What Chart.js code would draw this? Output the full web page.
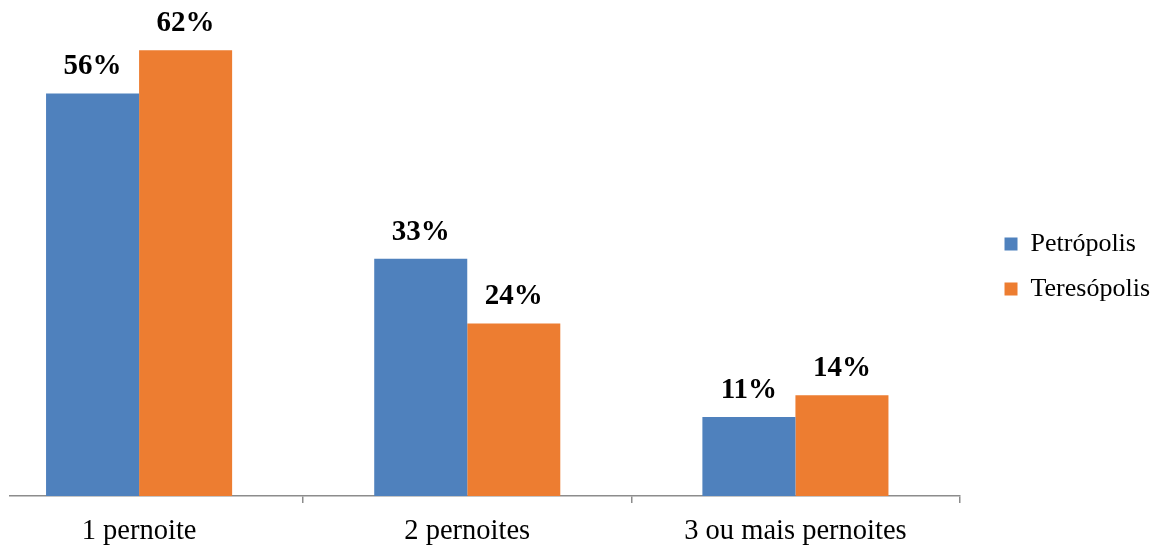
<!DOCTYPE html>
<html>
<head>
<meta charset="utf-8">
<script src="https://cdn.jsdelivr.net/npm/chart.js@4/dist/chart.umd.min.js"></script>
<style>
html,body{margin:0;padding:0;background:#fff;overflow:hidden;}
#clip{position:absolute;left:9px;top:0;width:1144px;height:549px;overflow:hidden;}
#wrap{position:absolute;left:-34px;top:0;width:1185px;height:549px;}
</style>
</head>
<body>
<div id="clip"><div id="wrap"><canvas id="c"></canvas></div></div>
<script>
const categories = ['1 pernoite', '2 pernoites', '3 ou mais pernoites'];
const seriesNames = ['Petrópolis', 'Teresópolis'];
const petropolis = [56, 33, 11];
const teresopolis = [62, 24, 14];
const colors = ['#4F81BD', '#ED7D31'];

const valueLabels = {
  id: 'valueLabels',
  afterDatasetsDraw(chart) {
    const ctx = chart.ctx;
    ctx.save();
    ctx.font = 'bold 29px "Liberation Serif", "Times New Roman", serif';
    ctx.fillStyle = '#000';
    ctx.textAlign = 'center';
    ctx.textBaseline = 'alphabetic';
    chart.data.datasets.forEach((ds, di) => {
      const meta = chart.getDatasetMeta(di);
      meta.data.forEach((el, i) => {
        ctx.fillText(ds.data[i] + '%', el.x, el.y - 19);
      });
    });
    ctx.restore();
  }
};

new Chart(document.getElementById('c'), {
  type: 'bar',
  data: {
    labels: categories,
    datasets: [
      { label: seriesNames[0], data: petropolis, backgroundColor: colors[0], borderWidth: 0 },
      { label: seriesNames[1], data: teresopolis, backgroundColor: colors[1], borderWidth: 0 }
    ]
  },
  options: {
    responsive: true,
    maintainAspectRatio: false,
    animation: false,
    events: [],
    layout: { padding: 0 },
    datasets: { bar: { categoryPercentage: 0.567, barPercentage: 1.0 } },
    scales: {
      x: {
        grid: { display: true, drawOnChartArea: false, drawTicks: true, tickLength: 7, color: '#8c8c8c', lineWidth: 1.5, offset: true },
        border: { display: true, color: '#8c8c8c', width: 1.5 },
        ticks: { color: '#000', padding: 11, font: { family: '"Liberation Serif", "Times New Roman", serif', size: 28.5 } },
        afterFit: s => { s.height = 53; }
      },
      y: {
        position: 'right',
        min: 0,
        max: 69,
        grid: { display: false },
        border: { display: false },
        ticks: { display: false },
        afterFit: s => { s.width = 26; }
      }
    },
    plugins: {
      legend: {
        position: 'right',
        align: 'center',
        fullSize: false,
        title: { display: true, text: ' ', font: { size: 10 }, padding: 12.5 },
        labels: {
          boxWidth: 13,
          boxHeight: 13,
          padding: 19,
          color: '#000',
          font: { family: '"Liberation Serif", "Times New Roman", serif', size: 26 }
        }
      },
      tooltip: { enabled: false }
    }
  },
  plugins: [valueLabels]
});
</script>
</body>
</html>
